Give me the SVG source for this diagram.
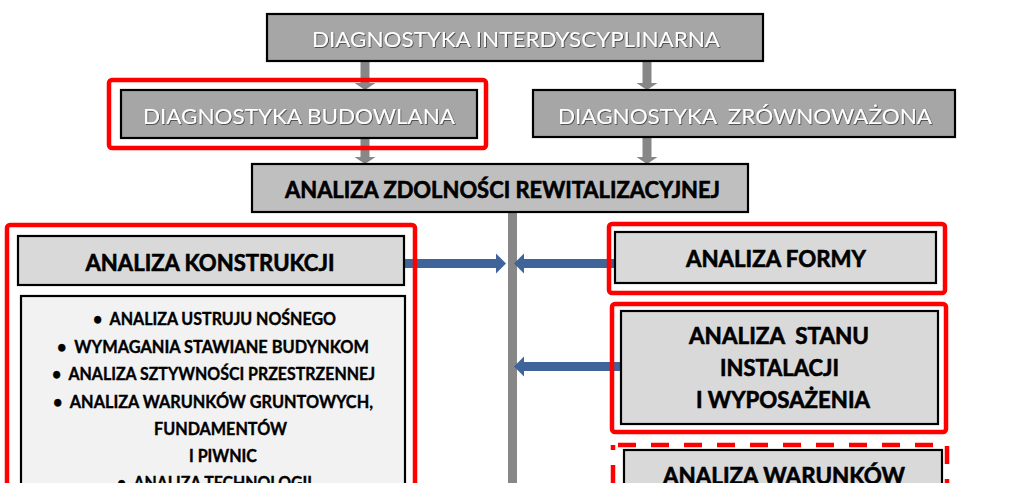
<svg xmlns="http://www.w3.org/2000/svg" width="1024" height="483" viewBox="0 0 1024 483">
<defs>
<style>
.box{stroke:#000;stroke-width:2.2}
.dark{fill:#a6a6a6}
.mid{fill:#bfbfbf}
.light{fill:#d9d9d9}
.pale{fill:#f2f2f2}
.red{fill:none;stroke:#ff0000;stroke-width:4.5}
.wt{font-family:Lato,"Open Sans",sans-serif;font-size:21px;fill:#fff;text-anchor:middle;filter:url(#sh)}
.bt{font-family:Lato,"Open Sans",sans-serif;font-weight:bold;font-size:22px;fill:#000;stroke:#000;stroke-width:0.6;text-anchor:middle}
.lt{font-family:Lato,"Open Sans",sans-serif;font-weight:bold;font-size:16.5px;fill:#000;stroke:#000;stroke-width:0.35;text-anchor:middle}
.gray{fill:#878787}
.blue{fill:#3f6499}
</style>
<filter id="sh" x="-5%" y="-30%" width="110%" height="160%">
<feDropShadow dx="0.8" dy="0.8" stdDeviation="0.3" flood-color="#303030" flood-opacity="0.9"/>
</filter>
</defs>
<rect width="1024" height="483" fill="#fff"/>

<g id="connectors">
<rect class="gray" x="360.5" y="61" width="9" height="22"/>
<polygon class="gray" points="354.5,83 375.5,83 365,90"/>
<rect class="gray" x="642.5" y="61" width="9" height="22"/>
<polygon class="gray" points="636.5,83 657.5,83 647,90"/>
<rect class="gray" x="360.5" y="138" width="9" height="19"/>
<polygon class="gray" points="354.5,157 375.5,157 365,164"/>
<rect class="gray" x="642.5" y="137" width="9" height="20"/>
<polygon class="gray" points="636.5,157 657.5,157 647,164"/>
<rect class="gray" x="508" y="212" width="9" height="272"/>
<rect class="blue" x="404" y="259" width="93" height="9"/>
<polygon class="blue" points="496,253.5 506,263.5 496,273.5"/>
<rect class="blue" x="523" y="259" width="94" height="9"/>
<polygon class="blue" points="524,253.5 514,263.5 524,273.5"/>
<rect class="blue" x="523" y="362" width="100" height="9"/>
<polygon class="blue" points="524,356.5 514,366.5 524,376.5"/>
</g>

<g id="n-interdyscyplinarna">
<rect class="box dark" x="267" y="14" width="496" height="47"/>
<text class="wt" x="516" y="47" textLength="408" lengthAdjust="spacingAndGlyphs">DIAGNOSTYKA INTERDYSCYPLINARNA</text>
</g>

<g id="n-budowlana">
<rect class="red" x="109" y="80" width="377" height="68" rx="3"/>
<rect class="box dark" x="121" y="90" width="356" height="48"/>
<text class="wt" x="299" y="124" textLength="312" lengthAdjust="spacingAndGlyphs">DIAGNOSTYKA BUDOWLANA</text>
</g>

<g id="n-zrownowazona">
<rect class="box dark" x="533" y="90" width="422" height="47"/>
<text class="wt" x="745" y="124" textLength="374" lengthAdjust="spacingAndGlyphs" xml:space="preserve">DIAGNOSTYKA  ZRÓWNOWAŻONA</text>
</g>

<g id="n-zdolnosci">
<rect class="box mid" x="252" y="164" width="496" height="48"/>
<text class="bt" x="502.5" y="198" font-size="23" textLength="435" lengthAdjust="spacingAndGlyphs">ANALIZA ZDOLNOŚCI REWITALIZACYJNEJ</text>
</g>

<g id="n-konstrukcji">
<rect class="red" x="7" y="225" width="408" height="300" rx="3"/>
<rect class="box light" x="18" y="236" width="386" height="49"/>
<text class="bt" x="210" y="271" textLength="249" lengthAdjust="spacingAndGlyphs">ANALIZA KONSTRUKCJI</text>
<rect class="box pale" x="21" y="296" width="384" height="300"/>
<text class="lt" x="214.5" y="325" textLength="243" lengthAdjust="spacingAndGlyphs" xml:space="preserve">•  ANALIZA USTRUJU NOŚNEGO</text>
<text class="lt" x="213" y="353" textLength="312" lengthAdjust="spacingAndGlyphs" xml:space="preserve">•  WYMAGANIA STAWIANE BUDYNKOM</text>
<text class="lt" x="213.5" y="380" textLength="323" lengthAdjust="spacingAndGlyphs" xml:space="preserve">•  ANALIZA SZTYWNOŚCI PRZESTRZENNEJ</text>
<text class="lt" x="213" y="408" textLength="320" lengthAdjust="spacingAndGlyphs" xml:space="preserve">•  ANALIZA WARUNKÓW GRUNTOWYCH,</text>
<text class="lt" x="220.5" y="435" textLength="133" lengthAdjust="spacingAndGlyphs">FUNDAMENTÓW</text>
<text class="lt" x="223" y="462" textLength="68" lengthAdjust="spacingAndGlyphs">I PIWNIC</text>
<text class="lt" x="214.5" y="489" textLength="195" lengthAdjust="spacingAndGlyphs" xml:space="preserve">•  ANALIZA TECHNOLOGII</text>
</g>

<g id="n-formy">
<rect class="red" x="609" y="224" width="336" height="69" rx="3"/>
<rect class="box light" x="615" y="232" width="321" height="51"/>
<text class="bt" x="776" y="267" textLength="180" lengthAdjust="spacingAndGlyphs">ANALIZA FORMY</text>
</g>

<g id="n-instalacji">
<rect class="red" x="612" y="304" width="334" height="128" rx="3"/>
<rect class="box light" x="621" y="311" width="317" height="113"/>
<text class="bt" x="779" y="344" textLength="180" lengthAdjust="spacingAndGlyphs" xml:space="preserve">ANALIZA  STANU</text>
<text class="bt" x="779.5" y="376" textLength="119" lengthAdjust="spacingAndGlyphs">INSTALACJI</text>
<text class="bt" x="783" y="408" textLength="174" lengthAdjust="spacingAndGlyphs">I WYPOSAŻENIA</text>
</g>

<g id="n-warunkow">
<rect class="red" x="613" y="445" width="334" height="100" stroke-dasharray="18 15" stroke-dashoffset="-5"/>
<rect class="box light" x="624" y="450" width="318" height="100"/>
<text class="bt" x="784" y="484" textLength="242" lengthAdjust="spacingAndGlyphs">ANALIZA WARUNKÓW</text>
</g>
</svg>
